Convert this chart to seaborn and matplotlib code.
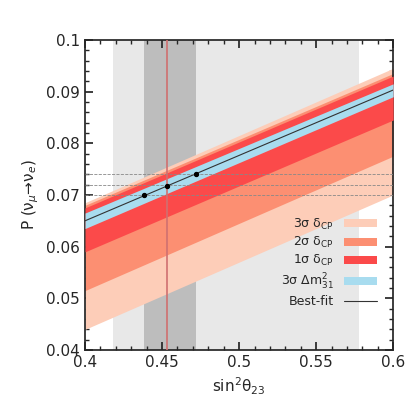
import matplotlib
matplotlib.use("Agg")
import matplotlib.pyplot as plt
import seaborn as sns
import numpy as np
from matplotlib.ticker import MultipleLocator

sns.set_theme(style="ticks")
plt.rcParams['font.family'] = ['DejaVu Sans']

x = [0.4, 0.6]
s3_lo = [0.044, 0.070]; s3_hi = [0.0685, 0.0945]
s2_lo = [0.0515, 0.0775]; s2_hi = [0.068, 0.0935]
s1_lo = [0.059, 0.0845]; s1_hi = [0.0675, 0.093]
dm_lo = [0.0635, 0.0890]; dm_hi = [0.0665, 0.0915]
best = [0.065, 0.0903]
pts_x = [0.438, 0.453, 0.472]
pts_y = [0.0700, 0.0718, 0.0740]
hlines = [0.070, 0.072, 0.074]

fig = plt.figure(figsize=(4.07, 4.07), dpi=100)
ax = fig.add_axes([0.209, 0.14, 0.757, 0.762])
ax.axvspan(0.418, 0.578, color='#e8e8e8', lw=0, zorder=0)
ax.axvspan(0.438, 0.472, color='#bdbdbd', lw=0, zorder=0.5)
ax.fill_between(x, s3_lo, s3_hi, color='#fdcdb8', lw=0, label='3σ δ$_{\\rm CP}$', zorder=1)
ax.fill_between(x, s2_lo, s2_hi, color='#fc8f72', lw=0, label='2σ δ$_{\\rm CP}$', zorder=2)
ax.fill_between(x, s1_lo, s1_hi, color='#fb4a4a', lw=0, label='1σ δ$_{\\rm CP}$', zorder=3)
ax.fill_between(x, dm_lo, dm_hi, color='#a8dcef', lw=0, label='3σ Δm$^2_{31}$', zorder=4)
sns.lineplot(x=x, y=best, color='#333333', lw=0.8, ax=ax, label='Best-fit', zorder=5)
for h in hlines:
    ax.axhline(h, color='#888888', lw=0.6, ls='--', zorder=5)
ax.axvline(0.453, color='#d07070', lw=1.2, zorder=6)
ax.scatter(pts_x, pts_y, color='black', s=8, zorder=7)
ax.set_xlim(0.4, 0.6); ax.set_ylim(0.04, 0.1)
ax.xaxis.set_minor_locator(MultipleLocator(0.01))
ax.yaxis.set_minor_locator(MultipleLocator(0.002))
ax.set_xticks([0.4,0.45,0.5,0.55,0.6]); ax.set_xticklabels(['0.4','0.45','0.5','0.55','0.6'])
ax.set_yticks([0.04,0.05,0.06,0.07,0.08,0.09,0.1]); ax.set_yticklabels(['0.04','0.05','0.06','0.07','0.08','0.09','0.1'])
ax.tick_params(which='both', direction='in', top=True, right=True, labelsize=11)
ax.tick_params(which='major', length=6); ax.tick_params(which='minor', length=3)
ax.set_xlabel('sin$^2$θ$_{23}$', fontsize=11)
ax.set_ylabel('P (ν$_μ$→ν$_e$)', fontsize=11)
leg = ax.legend(loc='lower right', bbox_to_anchor=(0.985, 0.1), frameon=False, fontsize=9,
                markerfirst=False, handlelength=2.7, labelspacing=0.25, handleheight=0.6)
fig.savefig('out.png', dpi=100)
